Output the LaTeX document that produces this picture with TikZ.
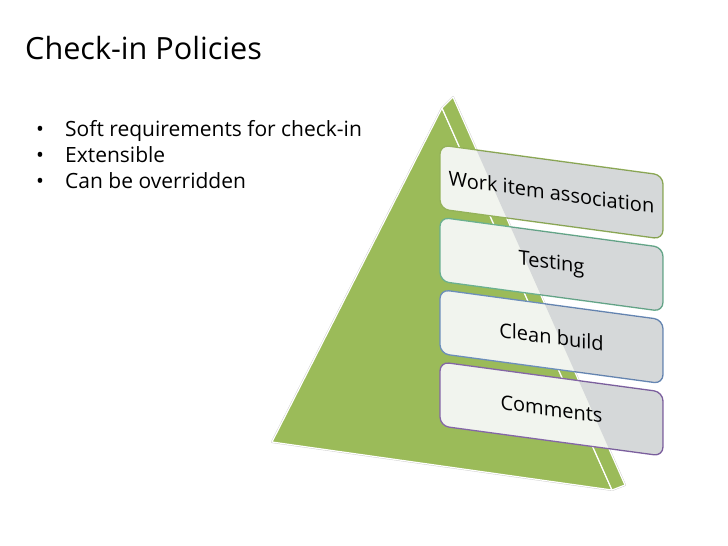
\documentclass[tikz,border=0pt]{standalone}
\usepackage{fontspec}
\setmainfont{Open Sans}
\definecolor{pyrgreen}{HTML}{9BBB59}
\definecolor{boxlight}{HTML}{F1F4EE}
\definecolor{boxshade}{HTML}{E2E2E9}
\definecolor{edgeA}{HTML}{94B25A}
\definecolor{edgeB}{HTML}{6BB08F}
\definecolor{edgeC}{HTML}{6C8EBA}
\definecolor{edgeD}{HTML}{8466A6}
\tikzset{
  tier/.style={draw=#1,line width=1.3pt,fill=boxlight,rounded corners=9pt,
    minimum width=223pt,minimum height=64pt,inner sep=0pt,outer sep=0pt,
    transform shape,font=\fontsize{20}{24}\selectfont},
  face/.style={fill=pyrgreen,draw=white,line width=1.2pt},
  item/.style={anchor=base west,inner sep=0pt,font=\fontsize{21}{26}\selectfont},
}
\begin{document}
\begin{tikzpicture}[x=1pt,y=1pt,line cap=round,line join=round]
\useasboundingbox (0,0) rectangle (728,-546);

% title and bullet list
\node[anchor=base west,inner sep=0pt,font=\fontsize{30.6}{36}\selectfont] (title) at (25,-59) {Check-in Policies};
\foreach \txt [count=\i] in {Soft requirements for check-in,Extensible,Can be overridden} {
  \node[item] (dot\i) at (36,{-136-26*(\i-1)}) {\textbullet};
  \node[item] (item\i) at (65,{-136-26*(\i-1)}) {\txt};
}

% pyramid
\draw[gray!40,line width=2pt] (442,-108) -- (272,-442) -- (612,-490) -- (625,-485) -- (453,-97) -- cycle;
\draw[face] (442,-108) -- (272,-442) -- (612,-490) -- cycle;
\draw[face] (442,-108) -- (453,-97) -- (625,-485) -- (612,-490) -- cycle;

% tiers
\begin{scope}[shift={(440,-145)},yslant=-0.135]
  \foreach \name/\col/\txt [count=\i from 0] in
    {work/edgeA/Work item association,test/edgeB/Testing,build/edgeC/Clean build,note/edgeD/Comments}
    \node[tier=\col] (\name) at (111.5,{-32-72.3*\i}) {\txt};
\end{scope}

% grey part of the tiers, right of the pyramid
\begin{scope}[blend mode=multiply]
  \foreach \name in {work,test,build,note} {
    \begin{scope}
      \clip[rounded corners=9pt] (\name.north west) -- (\name.north east) -- (\name.south east) -- (\name.south west) -- cycle;
      \fill[boxshade] (453,-97) -- (625,-485) -- (700,-520) -- (700,-97) -- cycle;
    \end{scope}
  }
\end{scope}
\end{tikzpicture}
\end{document}
